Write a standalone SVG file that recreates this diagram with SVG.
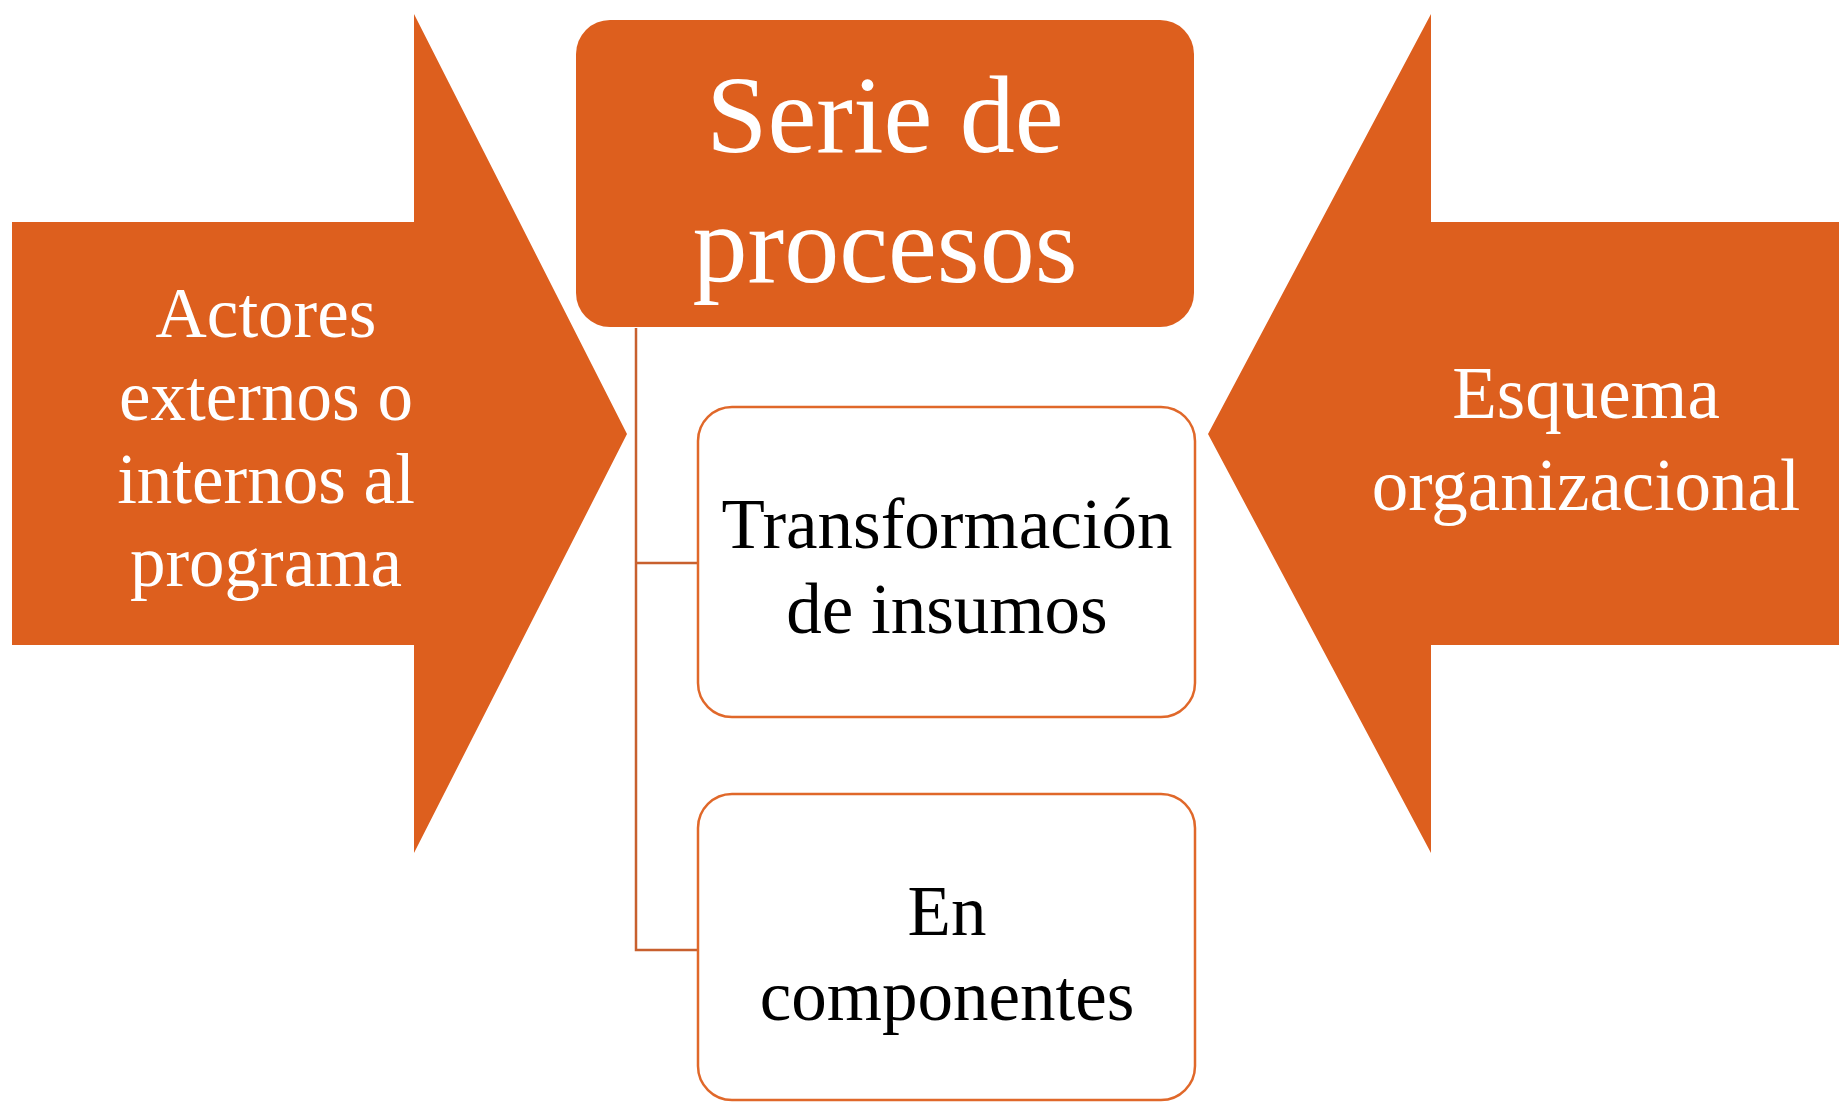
<svg xmlns="http://www.w3.org/2000/svg" width="1839" height="1102" viewBox="0 0 1839 1102">
<style>
.fill{fill:#DD5F1E}
.box{fill:#FFFFFF;stroke:#E0682A;stroke-width:2.5}
.conn{fill:none;stroke:#C8602E;stroke-width:2.5}
.w{fill:#FFFFFF;font-family:"Liberation Serif",serif;text-anchor:middle}
.b{fill:#000000;font-family:"Liberation Serif",serif;text-anchor:middle}
</style>
<rect width="1839" height="1102" fill="#FFFFFF"/>
<g id="arrow-left">
<polygon class="fill" points="12,222 414,222 414,14 627,434 414,853 414,645 12,645"/>
<text class="w" font-size="71"><tspan x="266" y="337">Actores</tspan><tspan x="266" y="420">externos o</tspan><tspan x="266" y="503">internos al</tspan><tspan x="266" y="586">programa</tspan></text>
</g>
<g id="arrow-right">
<polygon class="fill" points="1839,222 1431,222 1431,14 1208,434 1431,853 1431,645 1839,645"/>
<text class="w" font-size="73"><tspan x="1586" y="418">Esquema</tspan><tspan x="1586" y="510">organizacional</tspan></text>
</g>
<g id="connectors">
<path class="conn" d="M636,328 V950 H698 M636,563 H698"/>
</g>
<g id="serie">
<rect class="fill" x="576" y="20" width="618" height="307" rx="34" ry="34"/>
<text class="w" font-size="110"><tspan x="885" y="152">Serie de</tspan><tspan x="885" y="282">procesos</tspan></text>
</g>
<g id="transformacion">
<rect class="box" x="698" y="407" width="497" height="310" rx="34" ry="34"/>
<text class="b" font-size="71"><tspan x="947" y="548">Transformación</tspan><tspan x="947" y="633">de insumos</tspan></text>
</g>
<g id="componentes">
<rect class="box" x="698" y="794" width="497" height="306" rx="34" ry="34"/>
<text class="b" font-size="71"><tspan x="947" y="935">En</tspan><tspan x="947" y="1020">componentes</tspan></text>
</g>
</svg>
